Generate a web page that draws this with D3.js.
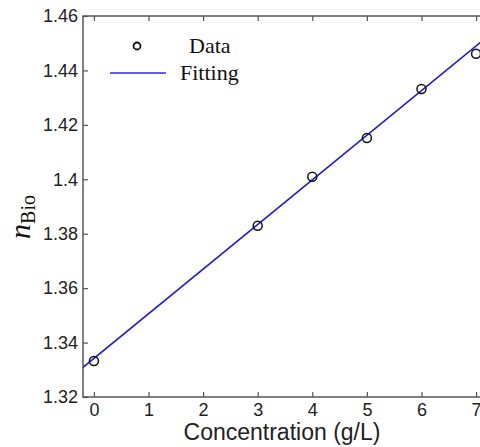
<!DOCTYPE html>
<html lang="en">
<head>
  <meta charset="utf-8">
  <title>n_Bio vs concentration</title>
  <script src="https://d3js.org/d3.v7.min.js"></script>
  <style>
    * { margin: 0; padding: 0; }
    html, body { background: #fff; width: 480px; height: 447px; overflow: hidden; }
    svg { display: block; }
    .tick text { font-family: "Liberation Sans", Arial, sans-serif; font-size: 18px; fill: #222; }
  </style>
</head>
<body>
  <svg id="chart" width="480" height="447"></svg>
  <script>
    // data
    const concentration = [0, 3, 4, 5, 6, 7];
    const nBio = [1.3332, 1.3829, 1.4009, 1.4152, 1.4332, 1.4461];
    // fitted line n = intercept + slope * c
    const fitIntercept = 1.3342;
    const fitSlope = 0.0164;
    const xTicks = [0, 1, 2, 3, 4, 5, 6, 7];
    const yTicks = [1.32, 1.34, 1.36, 1.38, 1.40, 1.42, 1.44, 1.46];
    const yTickLabels = ["1.32", "1.34", "1.36", "1.38", "1.4", "1.42", "1.44", "1.46"];
    const legendLabels = ["Data", "Fitting"];

    const svg = d3.select("#chart");
    const mLeft = 83, mRight = 487, mTop = 16, mBottom = 397;
    const axisColor = "#555";

    const x = d3.scaleLinear().domain([-0.2, 7.2]).range([mLeft, mRight]);
    const y = d3.scaleLinear().domain([1.32, 1.46]).range([mBottom, mTop]);

    // frame
    svg.append("rect")
      .attr("x", mLeft).attr("y", mTop)
      .attr("width", mRight - mLeft).attr("height", mBottom - mTop)
      .attr("fill", "none").attr("stroke", axisColor).attr("stroke-width", 1.5);

    const styleAxis = g => {
      g.select(".domain").remove();
      g.selectAll(".tick line").attr("stroke", axisColor).attr("stroke-width", 1.2);
    };

    // bottom axis, ticks inside
    svg.append("g")
      .attr("transform", `translate(0,${mBottom})`)
      .call(d3.axisBottom(x).tickValues(xTicks).tickSizeInner(-5).tickSizeOuter(0).tickPadding(6).tickFormat(d3.format("d")))
      .call(styleAxis);

    // top ticks
    svg.append("g")
      .attr("transform", `translate(0,${mTop})`)
      .call(d3.axisTop(x).tickValues(xTicks).tickSizeInner(-5).tickSizeOuter(0).tickFormat(""))
      .call(styleAxis);

    // left axis
    svg.append("g")
      .attr("transform", `translate(${mLeft},0)`)
      .call(d3.axisLeft(y).tickValues(yTicks).tickSizeInner(-5).tickSizeOuter(0).tickPadding(5)
        .tickFormat((d, i) => yTickLabels[i]))
      .call(styleAxis);

    // right ticks
    svg.append("g")
      .attr("transform", `translate(${mRight},0)`)
      .call(d3.axisRight(y).tickValues(yTicks).tickSizeInner(-5).tickSizeOuter(0).tickFormat(""))
      .call(styleAxis);

    // fitting line across the plot
    const [x0, x1] = x.domain();
    svg.append("defs").append("clipPath").attr("id", "plot-clip")
      .append("rect").attr("x", mLeft).attr("y", mTop).attr("width", mRight - mLeft).attr("height", mBottom - mTop);

    svg.append("line")
      .attr("clip-path", "url(#plot-clip)")
      .attr("x1", x(x0)).attr("y1", y(fitIntercept + fitSlope * x0))
      .attr("x2", x(x1)).attr("y2", y(fitIntercept + fitSlope * x1))
      .attr("stroke", "#1c1ccc").attr("stroke-width", 1.6);

    // data circles
    svg.append("g").selectAll("circle")
      .data(concentration.map((c, i) => [c, nBio[i]]))
      .join("circle")
      .attr("cx", d => x(d[0])).attr("cy", d => y(d[1]))
      .attr("r", 4.5)
      .attr("fill", "none").attr("stroke", "#111").attr("stroke-width", 1.5);

    // legend
    const leg = svg.append("g").attr("font-family", "'Liberation Serif', 'Times New Roman', serif").attr("font-size", 22).attr("fill", "#111");
    leg.append("circle").attr("cx", 137).attr("cy", 46).attr("r", 3.5)
      .attr("fill", "none").attr("stroke", "#111").attr("stroke-width", 1.8);
    leg.append("text").attr("x", 189).attr("y", 53).text(legendLabels[0]);
    leg.append("line").attr("x1", 110).attr("x2", 166).attr("y1", 73).attr("y2", 73)
      .attr("stroke", "#2a2ae0").attr("stroke-width", 1.6);
    leg.append("text").attr("x", 180).attr("y", 80).text(legendLabels[1]);

    // x label
    svg.append("text")
      .attr("x", 282).attr("y", 440)
      .attr("text-anchor", "middle")
      .attr("font-family", "'Liberation Sans', Arial, sans-serif")
      .attr("font-size", 23).attr("fill", "#222")
      .text("Concentration (g/L)");

    // y label: italic n with subscript Bio
    const yl = svg.append("text")
      .attr("transform", "translate(30,217) rotate(-90)")
      .attr("text-anchor", "middle")
      .attr("font-family", "'Liberation Serif', 'Times New Roman', serif")
      .attr("fill", "#111");
    yl.append("tspan").attr("font-style", "italic").attr("font-size", 30).text("n");
    yl.append("tspan").attr("font-size", 20).attr("dy", 5).text("Bio");
  </script>
</body>
</html>
